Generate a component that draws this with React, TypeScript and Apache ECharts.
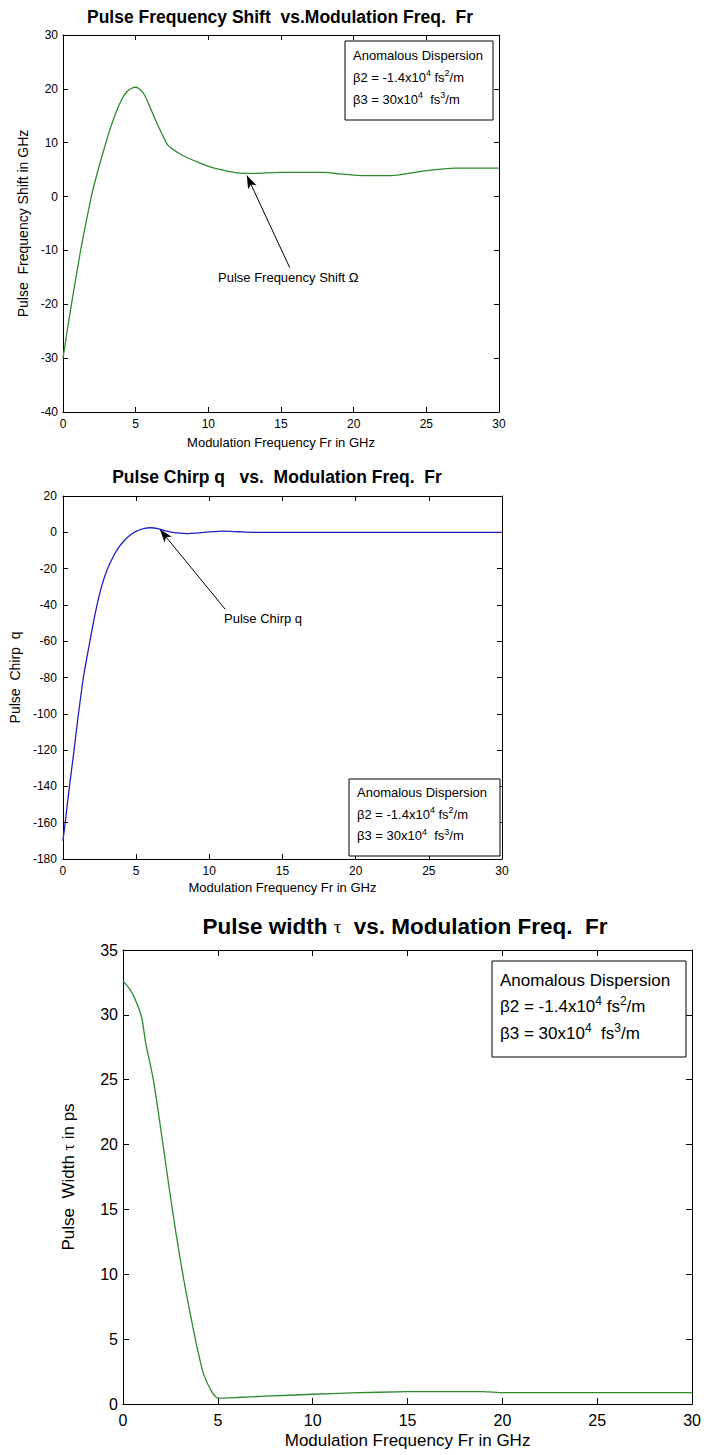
import React, { useEffect, useRef } from 'react';
import * as echarts from 'echarts';

// ---------- data ----------
const FR_SHIFT = [0, 0.4, 0.8, 1.2, 1.6, 2.0, 2.4, 2.8, 3.2, 3.6, 4.0, 4.4, 4.8, 5.0, 5.3, 5.6, 6.0, 6.4, 6.8, 7.2, 7.6, 8.0, 8.5, 9.0, 10, 11, 12, 13, 14, 15, 16, 17, 18, 19, 20, 21, 22, 23, 24, 25, 26, 27, 28, 29, 30];
const SHIFT = [-30, -23, -16.5, -10.2, -4.6, 0.6, 4.8, 8.6, 12.2, 15.3, 17.8, 19.5, 20.2, 20.3, 19.9, 18.9, 16.5, 14.0, 11.7, 9.6, 8.7, 8.0, 7.3, 6.7, 5.6, 4.9, 4.4, 4.3, 4.4, 4.5, 4.5, 4.5, 4.5, 4.2, 4.0, 3.9, 3.9, 4.0, 4.4, 4.8, 5.1, 5.3, 5.3, 5.3, 5.3];

const FR_CHIRP = [0, 0.2, 0.4, 0.7, 1.0, 1.4, 1.8, 2.2, 2.6, 3.0, 3.4, 3.8, 4.2, 4.6, 5.0, 5.5, 6.0, 6.5, 7.0, 7.5, 8.0, 8.5, 9.0, 10, 11, 12, 13, 15, 20, 25, 30];
const CHIRP = [-170, -157, -143, -124, -104, -80, -62, -45, -31, -21, -14, -8.5, -4.5, -1.5, 0.5, 2.0, 2.5, 2.0, 0.8, 0, -0.5, -0.7, -0.5, 0.2, 0.6, 0.3, 0, 0, 0, 0, 0];

const FR_WIDTH = [0, 0.35, 0.7, 1.0, 1.2, 1.6, 2.0, 2.4, 2.8, 3.2, 3.5, 3.9, 4.25, 4.7, 5.0, 6, 7.5, 10, 12, 15, 19, 20, 25, 30];
const WIDTH = [32.6, 32.0, 31.0, 29.7, 27.8, 25.0, 21.1, 17.0, 13.1, 9.6, 7.3, 4.4, 2.3, 0.9, 0.45, 0.5, 0.6, 0.75, 0.85, 0.95, 0.96, 0.87, 0.87, 0.87];

// axis ranges: [min, max, interval]
const X_RANGE = [0, 30, 5];
const Y_RANGE_SHIFT = [-40, 30, 10];
const Y_RANGE_CHIRP = [-180, 20, 20];
const Y_RANGE_WIDTH = [0, 35, 5];

// annotation arrows (data coordinates): [from, to]
const ARROW_SHIFT = [[15.6, -13.2], [12.65, 3.9]];
const ARROW_CHIRP = [[11.1, -42.5], [6.63, 1.5]];

const TITLES = [
  'Pulse Frequency Shift\u00a0 vs.Modulation Freq.\u00a0 Fr',
  'Pulse Chirp q\u00a0\u00a0 vs.\u00a0 Modulation Freq.\u00a0 Fr',
  '{b|Pulse width }{t|τ}{b|\u00a0 vs. Modulation Freq.\u00a0 Fr}',
];
const X_NAME = 'Modulation Frequency Fr in GHz';
const Y_NAMES = [
  'Pulse\u00a0 Frequency Shift in GHz',
  'Pulse\u00a0 Chirp\u00a0 q',
  '{a|Pulse\u00a0 Width }{t|τ}{a| in ps}',
];
const ANNOT_TEXTS = ['Pulse Frequency Shift Ω', 'Pulse Chirp q'];
const LEGEND_TEXT =
  '{n|Anomalous Dispersion}\n{n|β2 = -1.4x10}{s|4}{n| fs}{s|2}{n|/m}\n{n|β3 = 30x10}{s|4}{n|\u00a0 fs}{s|3}{n|/m}';

// ---------- styling ----------
const FONT = '"Liberation Sans", Arial, Helvetica, sans-serif';
const SERIF = '"Liberation Serif", "DejaVu Serif", serif';
const GREEN = '#2e8b2e';
const BLUE = '#2020c0';

type GridCfg = {
  left: number; top: number; width: number; height: number;
  yRange: number[]; tickFont: number; nameFont: number;
  xMargin: number; yMargin: number; xNameGap: number; yNameGap: number;
  tickLen: number; yName: string; yRich?: any;
};

const GRIDS: GridCfg[] = [
  { left: 63, top: 35, width: 436, height: 377, yRange: Y_RANGE_SHIFT, tickFont: 12, nameFont: 13, xMargin: 6, yMargin: 5, xNameGap: 24, yNameGap: 26, tickLen: 5, yName: Y_NAMES[0] },
  { left: 59, top: 496, width: 443, height: 363, yRange: Y_RANGE_CHIRP, tickFont: 12, nameFont: 13, xMargin: 6, yMargin: 6, xNameGap: 22, yNameGap: 38, tickLen: 5, yName: Y_NAMES[1] },
  { left: 123, top: 950, width: 577, height: 454, yRange: Y_RANGE_WIDTH, tickFont: 16, nameFont: 17, xMargin: 8, yMargin: 5, xNameGap: 28, yNameGap: 46, tickLen: 6, yName: Y_NAMES[2],
    yRich: { a: { fontSize: 17, fontFamily: FONT, color: '#000' }, t: { fontSize: 16, fontFamily: SERIF, color: '#000' } } },
];

function buildOption() {
  const grid: any[] = [];
  const xAxis: any[] = [];
  const yAxis: any[] = [];
  GRIDS.forEach((g, i) => {
    grid.push({ left: g.left, top: g.top, width: g.width, height: g.height, containLabel: false, show: false });
    const lineStyle = { color: '#000', width: 1 };
    const tick = { show: true, inside: true, length: g.tickLen, lineStyle };
    const xBase = {
      gridIndex: i, type: 'value', min: X_RANGE[0], max: X_RANGE[1], interval: X_RANGE[2],
      axisLine: { show: true, onZero: false, lineStyle }, axisTick: tick, splitLine: { show: false },
    };
    xAxis.push({
      ...xBase, position: 'bottom',
      axisLabel: { color: '#000', fontSize: g.tickFont, fontFamily: FONT, margin: g.xMargin },
      name: X_NAME, nameLocation: 'middle', nameGap: g.xNameGap,
      nameTextStyle: { color: '#000', fontSize: g.nameFont, fontFamily: FONT },
    });
    xAxis.push({ ...xBase, position: 'top', axisLabel: { show: false } });
    const yBase = {
      gridIndex: i, type: 'value', min: g.yRange[0], max: g.yRange[1], interval: g.yRange[2],
      axisLine: { show: true, onZero: false, lineStyle }, axisTick: tick, splitLine: { show: false },
    };
    yAxis.push({
      ...yBase, position: 'left',
      axisLabel: { color: '#000', fontSize: g.tickFont, fontFamily: FONT, margin: g.yMargin },
      name: g.yName, nameLocation: 'middle', nameGap: g.yNameGap, nameRotate: 90,
      nameTextStyle: { color: '#000', fontSize: g.nameFont + 1, fontFamily: FONT, rich: g.yRich },
    });
    yAxis.push({ ...yBase, position: 'right', axisLabel: { show: false } });
  });

  const arrowML = (arrow: number[][]) => ({
    silent: true,
    symbol: ['none', 'arrow'],
    symbolSize: [7, 13],
    lineStyle: { color: '#000', width: 1, type: 'solid' },
    itemStyle: { color: '#000' },
    label: { show: false },
    emphasis: { disabled: true },
    data: [[{ coord: arrow[0] }, { coord: arrow[1] }]],
  });

  const zip = (xs: number[], ys: number[]) => xs.map((x, k) => [x, ys[k]]);

  const series: any[] = [
    { type: 'line', xAxisIndex: 0, yAxisIndex: 0, data: zip(FR_SHIFT, SHIFT), showSymbol: false, smooth: 0.3,
      lineStyle: { color: GREEN, width: 1.3 }, markLine: arrowML(ARROW_SHIFT) },
    { type: 'line', xAxisIndex: 2, yAxisIndex: 2, data: zip(FR_CHIRP, CHIRP), showSymbol: false, smooth: 0.25,
      lineStyle: { color: BLUE, width: 1.3 }, markLine: arrowML(ARROW_CHIRP) },
    { type: 'line', xAxisIndex: 4, yAxisIndex: 4, data: zip(FR_WIDTH, WIDTH), showSymbol: false, smooth: 0.2,
      lineStyle: { color: GREEN, width: 1.3 } },
  ];

  const legend = (x: number, y: number, w: number, h: number, tx: number, ty: number, fs: number, lh: number) => [
    { type: 'rect', shape: { x, y, width: w, height: h }, style: { fill: '#fff', stroke: '#000', lineWidth: 1 }, z: 10 },
    { type: 'text', x: tx, y: ty, z: 11, style: {
      text: LEGEND_TEXT, align: 'left', verticalAlign: 'top', fill: '#000',
      rich: {
        n: { fontSize: fs, fontFamily: FONT, lineHeight: lh, fill: '#000', color: '#000' },
        s: { fontSize: Math.round(fs * 0.68), fontFamily: FONT, lineHeight: Math.round(fs * 0.7), padding: [0, 0, Math.round(fs * 0.65), 0], fill: '#000', color: '#000' },
      },
    } },
  ];

  const titleText = (x: number, y: number, text: string, fs: number, rich?: any) => ({
    type: 'text', x, y, z: 11,
    style: { text, fontSize: fs, fontFamily: FONT, fontWeight: 'bold', fill: '#000', align: 'center', verticalAlign: 'middle', rich },
  });

  const graphic: any[] = [
    titleText(280, 17, TITLES[0], 17.5),
    titleText(277, 477, TITLES[1], 17.5),
    titleText(405, 926, TITLES[2], 22.5, {
      b: { fontSize: 22.5, fontFamily: FONT, fontWeight: 'bold', fill: '#000', color: '#000' },
      t: { fontSize: 19, fontFamily: SERIF, fill: '#000', color: '#000' },
    }),
    { type: 'text', x: 218, y: 277, z: 11, style: { text: ANNOT_TEXTS[0], fontSize: 13, fontFamily: FONT, fill: '#000', align: 'left', verticalAlign: 'middle' } },
    { type: 'text', x: 224, y: 618, z: 11, style: { text: ANNOT_TEXTS[1], fontSize: 13, fontFamily: FONT, fill: '#000', align: 'left', verticalAlign: 'middle' } },
    ...legend(345, 41, 148, 79, 353, 44, 13, 22),
    ...legend(349, 779, 151, 77, 357, 782, 13, 21.5),
    ...legend(492, 961, 194, 96, 500, 967, 17, 26.5),
  ];

  return {
    animation: false,
    backgroundColor: '#fff',
    grid, xAxis, yAxis, series, graphic,
  };
}

export default function App() {
  const ref = useRef<HTMLDivElement>(null);
  useEffect(() => {
    const chart = echarts.init(ref.current!, null, { renderer: 'svg' });
    chart.setOption(buildOption() as any);
    return () => chart.dispose();
  }, []);
  return (
    <div
      ref={ref}
      style={{ position: 'absolute', left: 0, top: 0, width: 704, height: 1455, background: '#fff' }}
    />
  );
}
